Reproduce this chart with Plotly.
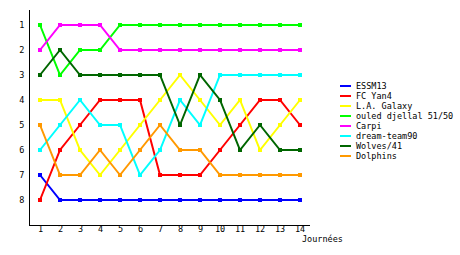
import plotly.graph_objects as go

journees = list(range(1, 15))
teams = ["ESSM13", "FC Yan4", "L.A. Galaxy", "ouled djellal 51/50", "Carpi",
         "dream-team90", "Wolves/41", "Dolphins"]
essm13 = [7, 8, 8, 8, 8, 8, 8, 8, 8, 8, 8, 8, 8, 8]
fc_yan4 = [8, 6, 5, 4, 4, 4, 7, 7, 7, 6, 5, 4, 4, 5]
la_galaxy = [4, 4, 6, 7, 6, 5, 4, 3, 4, 5, 4, 6, 5, 4]
ouled = [1, 3, 2, 2, 1, 1, 1, 1, 1, 1, 1, 1, 1, 1]
carpi = [2, 1, 1, 1, 2, 2, 2, 2, 2, 2, 2, 2, 2, 2]
dream = [6, 5, 4, 5, 5, 7, 6, 4, 5, 3, 3, 3, 3, 3]
wolves = [3, 2, 3, 3, 3, 3, 3, 5, 3, 4, 6, 5, 6, 6]
dolphins = [5, 7, 7, 6, 7, 6, 5, 6, 6, 7, 7, 7, 7, 7]
series = [essm13, fc_yan4, la_galaxy, ouled, carpi, dream, wolves, dolphins]
colors = ["#0000FF", "#FF0000", "#FFFF00", "#00FF00", "#FF00FF", "#00FFFF",
          "#006600", "#FF9900"]
y_ticks = [1, 2, 3, 4, 5, 6, 7, 8]

FONT = "DejaVu Sans Mono"
FS = 8.5
PLOT_TOP, PLOT_H = 10, 215


def py(pix):
    return 1 - (pix - PLOT_TOP) / PLOT_H


fig = go.Figure()
for name, vals, col in zip(teams, series, colors):
    fig.add_trace(go.Scatter(
        x=journees, y=vals, mode="lines+markers", name=name,
        line=dict(color=col, width=2),
        marker=dict(symbol="square", size=4, color=col),
        showlegend=False,
    ))

# compact legend
for i, (name, col) in enumerate(zip(teams, colors)):
    yp = py(86 + 10 * i)
    fig.add_shape(type="line", xref="paper", yref="paper",
                  x0=(340 - 30) / 280.0, x1=(351 - 30) / 280.0, y0=yp, y1=yp,
                  line=dict(color=col, width=2))
    fig.add_annotation(xref="paper", yref="paper", x=(354 - 30) / 280.0, y=yp,
                       text=name, showarrow=False, xanchor="left", yanchor="middle",
                       font=dict(family=FONT, size=FS, color="black"))

# x tick labels placed tight under the axis line
for j in journees:
    fig.add_annotation(xref="x", yref="paper", x=j, y=py(229),
                       text=str(j), showarrow=False, xanchor="center",
                       yanchor="middle", font=dict(family=FONT, size=FS, color="black"))

fig.add_annotation(xref="paper", yref="paper", x=(300 - 30) / 280.0, y=py(239),
                   text="Journées", showarrow=False, xanchor="left", yanchor="middle",
                   font=dict(family=FONT, size=FS, color="black"))

fig.update_layout(
    width=460, height=255,
    margin=dict(l=30, r=150, t=10, b=30, pad=0),
    paper_bgcolor="white", plot_bgcolor="white",
    font=dict(family=FONT, size=FS, color="black"),
    xaxis=dict(range=[0.5, 14.5], tickmode="array", tickvals=journees,
               showticklabels=False,
               showgrid=False, zeroline=False, showline=True, linecolor="black",
               linewidth=1, ticks=""),
    yaxis=dict(range=[9, 0.4], tickmode="array", tickvals=y_ticks,
               showgrid=False, zeroline=False, showline=True, linecolor="black",
               linewidth=1, ticks="", ticklabelstandoff=3,
               tickfont=dict(family=FONT, size=FS)),
)

fig.write_html("out.html")
